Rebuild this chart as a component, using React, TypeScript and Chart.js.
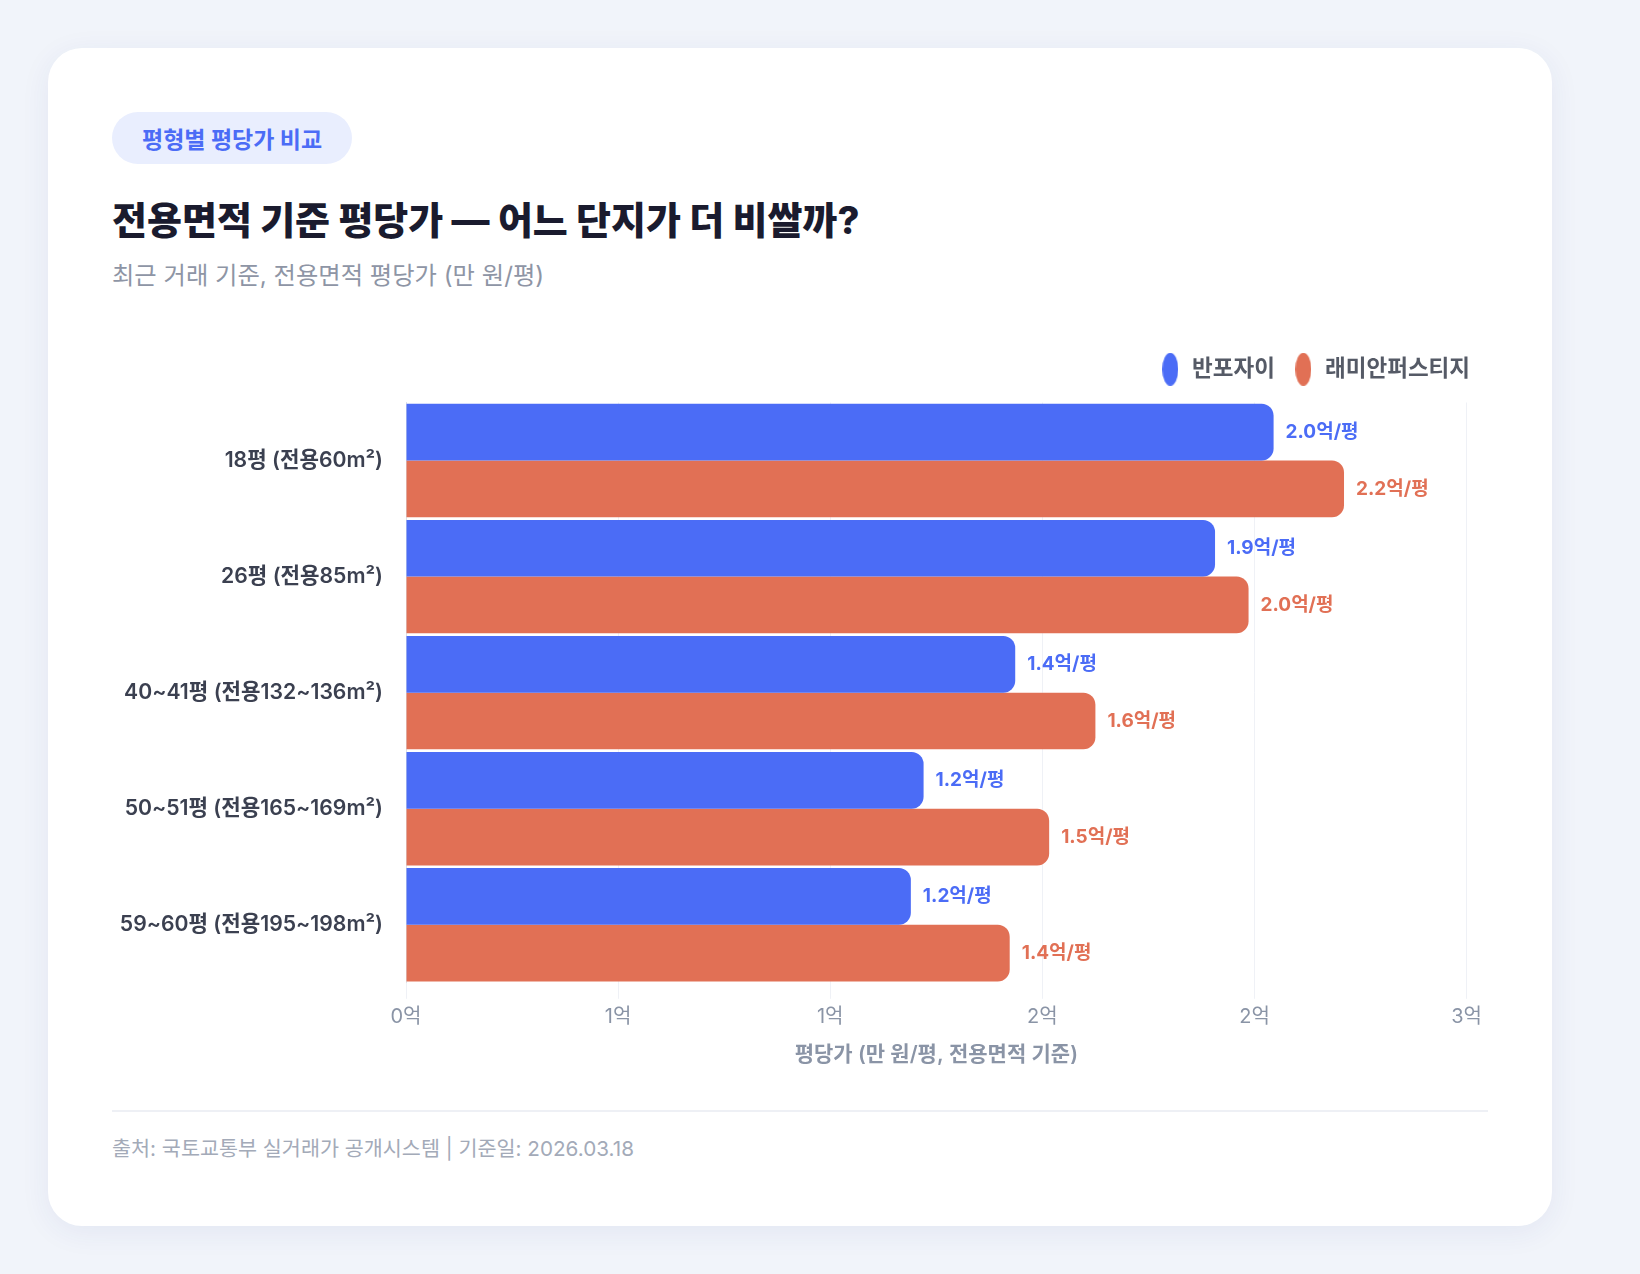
import React, { useEffect, useRef } from 'react';
import { Chart, registerables } from 'chart.js';

Chart.register(...registerables);

const FONT = "Inter, 'Noto Sans CJK KR', sans-serif";

// 평형 카테고리
const categories = [
  '18평 (전용60m²)',
  '26평 (전용85m²)',
  '40~41평 (전용132~136m²)',
  '50~51평 (전용165~169m²)',
  '59~60평 (전용195~198m²)',
];

// 평당가 (만 원/평)
const banpoXi = [20450, 19070, 14360, 12200, 11900];
const raemianFirstige = [22110, 19860, 16250, 15160, 14230];

const seriesNames = ['반포자이', '래미안퍼스티지'];
const seriesColors = ['#4b6cf6', '#e17055'];

// x축 눈금 (만 원 단위)
const xMin = 0;
const xMax = 25000;
const xStep = 5000;

/** legend marker: tall ellipse drawn into a small canvas */
function makeMarker(color: string) {
  const c = document.createElement('canvas');
  c.width = 16;
  c.height = 33;
  const g = c.getContext('2d');
  if (g) {
    g.fillStyle = color;
    g.beginPath();
    g.ellipse(8, 16.5, 8, 16.5, 0, 0, Math.PI * 2);
    g.fill();
  }
  return c;
}

const valueLabels = {
  id: 'valueLabels',
  afterDatasetsDraw(chart: any) {
    const { ctx } = chart;
    ctx.save();
    ctx.font = `700 19px ${FONT}`;
    ctx.textBaseline = 'middle';
    ctx.textAlign = 'left';
    chart.data.datasets.forEach((ds: any, di: number) => {
      const meta = chart.getDatasetMeta(di);
      ctx.fillStyle = ds.backgroundColor;
      meta.data.forEach((bar: any, i: number) => {
        const v = ds.data[i] as number;
        ctx.fillText(`${(v / 10000).toFixed(1)}억/평`, bar.x + 12, bar.y);
      });
    });
    ctx.restore();
  },
};

// extra space between the legend and the plot
const legendGap = {
  id: 'legendGap',
  beforeInit(chart: any) {
    const legend = chart.legend;
    if (!legend) return;
    const fit = legend.fit;
    legend.fit = function () {
      fit.bind(legend)();
      legend.height += 12;
    };
  },
};

const PriceChart: React.FC = () => {
  const canvasRef = useRef<HTMLCanvasElement>(null);
  const chartRef = useRef<Chart | null>(null);

  useEffect(() => {
    if (!canvasRef.current) return;
    if (chartRef.current) chartRef.current.destroy();
    const ctx = canvasRef.current.getContext('2d');
    if (!ctx) return;

    const markers = seriesColors.map(makeMarker);

    chartRef.current = new Chart(ctx, {
      type: 'bar',
      data: {
        labels: categories,
        datasets: [
          {
            label: seriesNames[0],
            data: banpoXi,
            backgroundColor: seriesColors[0],
            borderRadius: 12,
            borderSkipped: 'start',
            categoryPercentage: 0.977,
            barPercentage: 1,
          },
          {
            label: seriesNames[1],
            data: raemianFirstige,
            backgroundColor: seriesColors[1],
            borderRadius: 12,
            borderSkipped: 'start',
            categoryPercentage: 0.977,
            barPercentage: 1,
          },
        ],
      },
      options: {
        indexAxis: 'y',
        animation: false,
        responsive: true,
        maintainAspectRatio: false,
        layout: { padding: 0 },
        plugins: {
          legend: {
            position: 'top',
            align: 'end',
            labels: {
              usePointStyle: true,
              pointStyleWidth: 21,
              padding: 18,
              color: '#555a66',
              font: { family: FONT, size: 22.5, weight: 600 },
              generateLabels: (chart: any) =>
                Chart.defaults.plugins.legend.labels
                  .generateLabels(chart)
                  .map((item: any, i: number) => ({ ...item, pointStyle: markers[i] })),
            },
          },
          tooltip: { enabled: false },
        },
        scales: {
          x: {
            min: xMin,
            max: xMax,
            grid: { color: '#eff1f6', drawTicks: true, tickLength: 16 },
            border: { display: false },
            ticks: {
              stepSize: xStep,
              padding: 6,
              color: '#8a94a6',
              font: { family: FONT, size: 20 },
              callback: (v: any) => `${Math.round(Number(v) / 10000)}억`,
            },
            title: {
              display: true,
              text: '평당가 (만 원/평, 전용면적 기준)',
              color: '#8a94a6',
              font: { family: FONT, size: 21, weight: 600 },
              padding: { top: 7, bottom: 6 },
            },
          },
          y: {
            grid: { display: false, drawTicks: false },
            border: { display: true, color: '#dde0e7', width: 1 },
            ticks: {
              padding: 23,
              color: '#3b4050',
              font: { family: FONT, size: 21.2, weight: 600 },
            },
            afterFit: (s: any) => {
              s.width = 294;
            },
          },
        },
      },
      plugins: [valueLabels, legendGap],
    });

    return () => {
      chartRef.current?.destroy();
    };
  }, []);

  return (
    <div style={{ position: 'relative', width: 1376, height: 733 }}>
      <canvas ref={canvasRef} />
    </div>
  );
};

export default function App() {
  useEffect(() => {
    document.body.style.margin = '0';
    document.body.style.background = '#f1f4fa';
  }, []);

  return (
    <div style={{ padding: 48, fontFamily: FONT, background: '#f1f4fa', minHeight: 1274, boxSizing: 'border-box' }}>
      <div
        style={{
          width: 1504,
          boxSizing: 'border-box',
          padding: 64,
          background: '#fff',
          borderRadius: 34,
          boxShadow: '0 6px 30px rgba(40, 60, 140, 0.07)',
        }}
      >
        <div
          style={{
            display: 'inline-flex',
            alignItems: 'center',
            height: 52,
            padding: '0 30px',
            borderRadius: 26,
            background: '#e9eefe',
            color: '#4b6cf6',
            fontSize: 23,
            fontWeight: 700,
          }}
        >
          평형별 평당가 비교
        </div>
        <div
          style={{
            marginTop: 34,
            fontSize: 38,
            lineHeight: '44px',
            fontWeight: 800,
            color: '#1a1b2e',
          }}
        >
          전용면적 기준 평당가 — 어느 단지가 더 비쌀까?
        </div>
        <div style={{ marginTop: 18, fontSize: 24.3, lineHeight: '30px', color: '#8e95a5' }}>
          최근 거래 기준, 전용면적 평당가 (만 원/평)
        </div>
        <div style={{ marginTop: 50 }}>
          <PriceChart />
        </div>
        <div style={{ marginTop: 37, borderTop: '2px solid #eef0f5', paddingTop: 24 }}>
          <div style={{ fontSize: 20.7, lineHeight: '26px', color: '#a3aab8' }}>
            출처: 국토교통부 실거래가 공개시스템 | 기준일: 2026.03.18
          </div>
        </div>
      </div>
    </div>
  );
}
